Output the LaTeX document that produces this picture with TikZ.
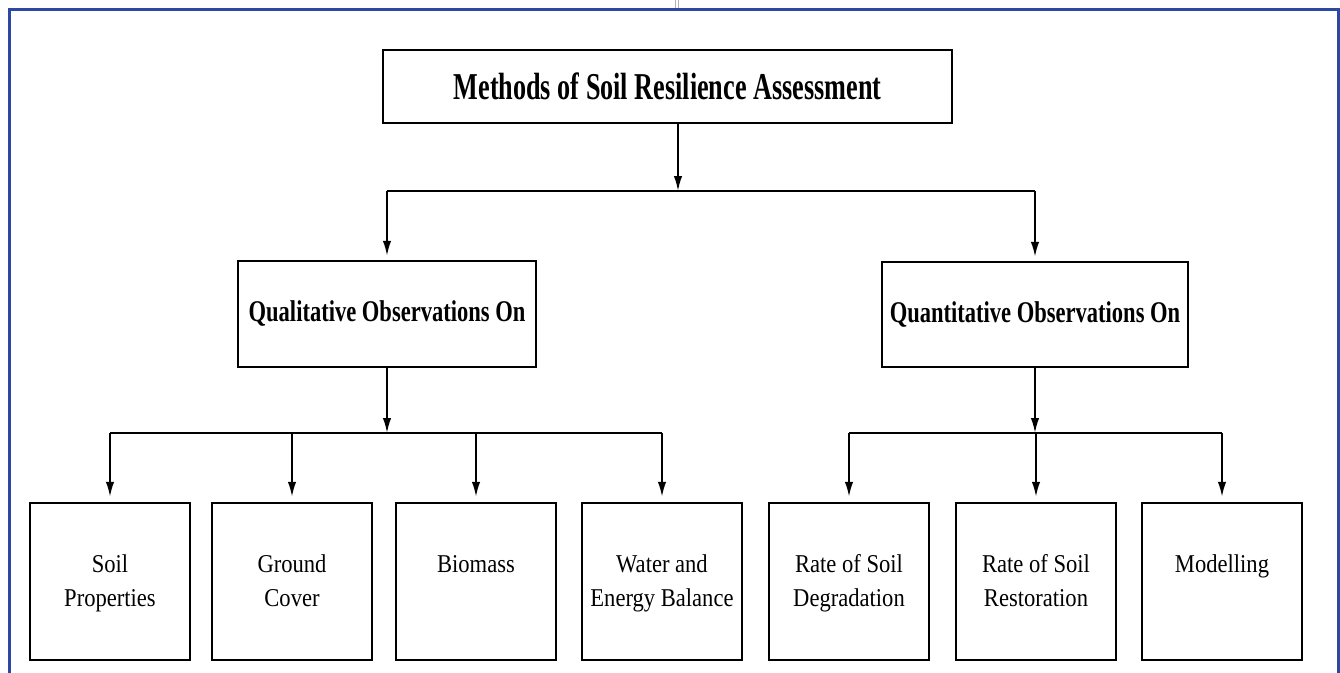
\documentclass[tikz,border=0pt]{standalone}
\usepackage{fontspec}
\setmainfont{Liberation Serif}
\newfontfamily\titlefont{Liberation Serif}[FakeStretch=0.69]
\newfontfamily\midfont{Liberation Serif}[FakeStretch=0.75]
\newfontfamily\leaffont{Liberation Serif}[FakeStretch=0.88]
\usetikzlibrary{arrows.meta,positioning,calc}
\definecolor{framecolor}{RGB}{44,72,160}
\newcommand{\leaftext}[1]{\parbox[c][3.14cm][t]{3.1cm}{\centering\rule{0pt}{1.38cm}#1}}

\begin{document}
\begin{tikzpicture}[x=0.02cm,y=-0.02cm,
  box/.style={draw,line width=1.4pt,inner sep=0pt},
  arr/.style={line width=1.1pt,-{Latex[length=0.3cm,width=0.17cm]}},
  bus/.style={line width=1.1pt}]

% ---- Page and frame ----
\useasboundingbox (0,0) rectangle (1340,673);
\draw[framecolor,line width=1.7pt] (9.5,673) -- (9.5,9.5) -- (1338,9.5) -- (1338,673);
\draw[gray!60,line width=0.4pt] (675,0) -- (675,8) (678,0) -- (678,8);

% ---- Main box ----
\node[box,minimum width=11.38cm,minimum height=1.46cm,
  font=\titlefont\bfseries\fontsize{21.6pt}{26pt}\selectfont] (methods) at (667.5,86.5)
  {Methods of Soil Resilience Assessment};

% ---- Second level ----
\node[box,minimum width=5.96cm,minimum height=2.12cm,
  font=\midfont\bfseries\fontsize{17.1pt}{20pt}\selectfont] (qual) at (387,314)
  {Qualitative Observations On};
\node[box,minimum width=6.12cm,minimum height=2.1cm,
  font=\midfont\bfseries\fontsize{17.1pt}{20pt}\selectfont] (quant) at (1035,314.5)
  {Quantitative Observations On};

% ---- Leaves ----
\foreach \cx/\nm/\txt in {110/soilprop/{Soil\\Properties},292/groundcov/{Ground\\Cover},
  476/biomass/{Biomass},662/watbal/{Water and\\Energy Balance},
  849/degrad/{Rate of Soil\\Degradation},1036/restor/{Rate of Soil\\Restoration},
  1222/modelling/{Modelling}} {
  \node[box,minimum width=3.2cm,
    font=\leaffont\fontsize{14.6pt}{19.5pt}\selectfont] (\nm) at (\cx,581.5) {\leaftext{\txt}};
}

% ---- Connectors ----
\coordinate (topbus) at (678,191);
\coordinate (leftbus) at (386,433);
\coordinate (rightbus) at (1035,433);

\draw[arr] (methods.south -| topbus) -- (topbus);
\draw[bus] (qual.north |- topbus) -- (quant.north |- topbus);
\foreach \nm in {qual,quant}
  \draw[arr,shorten >=0.08cm] (\nm.north |- topbus) -- (\nm.north);

\draw[arr] (qual.south) -- (qual.south |- leftbus);
\draw[bus] (soilprop.north |- leftbus) -- (watbal.north |- leftbus);
\foreach \nm in {soilprop,groundcov,biomass,watbal}
  \draw[arr,shorten >=0.1cm] (\nm.north |- leftbus) -- (\nm.north);

\draw[arr] (quant.south) -- (quant.south |- rightbus);
\draw[bus] (degrad.north |- rightbus) -- (modelling.north |- rightbus);
\foreach \nm in {degrad,restor,modelling}
  \draw[arr,shorten >=0.1cm] (\nm.north |- rightbus) -- (\nm.north);

\end{tikzpicture}
\end{document}
